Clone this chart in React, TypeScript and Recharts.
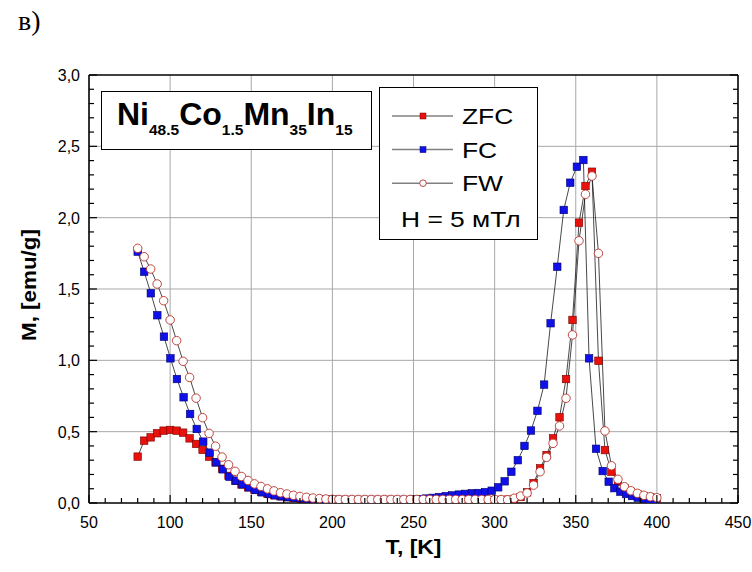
import React from "react";
import { LineChart, Line, XAxis, YAxis, ReferenceLine, Legend, Label } from "recharts";

const FONT = "'Liberation Sans', Arial, sans-serif";

// ZFC and FW share the same temperature sweep
const tSweep = [
  80, 84, 88, 92, 96, 100, 104, 108, 112, 116, 120, 124, 128, 132, 136, 140, 144, 148, 152, 156,
  160, 164, 168, 172, 176, 180, 184, 188, 192, 196, 200, 204, 208, 212, 216, 220, 224, 228, 232, 236,
  240, 244, 248, 252, 256, 260, 264, 268, 272, 276, 280, 284, 288, 292, 296, 300, 304, 308, 312, 316,
  320, 324, 328, 332, 336, 340, 344, 348, 352, 356, 360, 364, 368, 372, 376, 380, 384, 388, 392, 396, 400,
];

const mZfc = [
  0.325, 0.437, 0.46, 0.489, 0.507, 0.512, 0.507, 0.493, 0.453, 0.414, 0.372, 0.325, 0.285, 0.24, 0.19, 0.156, 0.13, 0.11, 0.092, 0.077,
  0.065, 0.055, 0.047, 0.041, 0.036, 0.032, 0.029, 0.026, 0.024, 0.023, 0.022, 0.022, 0.021, 0.021, 0.021, 0.021, 0.021, 0.021, 0.021, 0.021,
  0.021, 0.021, 0.021, 0.021, 0.021, 0.021, 0.021, 0.021, 0.021, 0.021, 0.021, 0.021, 0.021, 0.021, 0.021, 0.021, 0.022, 0.023, 0.028, 0.042,
  0.075, 0.14, 0.243, 0.336, 0.453, 0.601, 0.869, 1.283, 1.965, 2.222, 2.322, 0.997, 0.371, 0.219, 0.15, 0.105, 0.078, 0.062, 0.048, 0.04, 0.033,
];

const mFw = [
  1.785, 1.726, 1.64, 1.535, 1.418, 1.283, 1.138, 0.993, 0.88, 0.735, 0.598, 0.488, 0.398, 0.322, 0.268, 0.222, 0.186, 0.158, 0.134, 0.116,
  0.099, 0.085, 0.072, 0.063, 0.054, 0.046, 0.04, 0.035, 0.031, 0.028, 0.026, 0.025, 0.025, 0.025, 0.025, 0.025, 0.025, 0.025, 0.025, 0.025,
  0.025, 0.025, 0.025, 0.025, 0.025, 0.025, 0.025, 0.025, 0.025, 0.025, 0.025, 0.025, 0.025, 0.025, 0.025, 0.025, 0.024, 0.023, 0.033, 0.049,
  0.07, 0.125, 0.219, 0.32, 0.418, 0.54, 0.734, 1.178, 1.838, 2.164, 2.292, 1.75, 0.505, 0.261, 0.166, 0.114, 0.086, 0.068, 0.054, 0.044, 0.037,
];

// FC was measured on cooling, slightly different temperature points
const tFc = [
  80.0, 84.0, 88.1, 92.1, 96.2, 100.2, 104.2, 108.3, 112.3, 116.4, 120.4, 124.4, 128.5, 132.5, 136.6, 140.6, 144.6, 148.7, 152.7, 156.8,
  160.8, 164.8, 168.9, 172.9, 177.0, 181.0, 185.0, 189.1, 193.1, 197.2, 201.2, 205.2, 209.3, 213.3, 217.4, 221.4, 225.4, 229.5, 233.5, 237.6,
  241.6, 245.6, 249.7, 253.7, 257.8, 261.8, 265.8, 269.9, 273.9, 278.0, 282.0, 286.0, 290.1, 294.1, 298.2, 302.2, 306.2, 310.3, 314.3, 318.4,
  322.4, 326.4, 330.5, 334.5, 338.6, 342.6, 346.6, 350.7, 354.7, 358.2, 362.5, 366.6, 370.3, 373.8, 377.5, 381.0, 384.7, 388.2, 391.8, 395.3, 399.0,
];

const mFc = [
  1.762, 1.621, 1.47, 1.316, 1.166, 1.014, 0.869, 0.741, 0.624, 0.519, 0.43, 0.353, 0.285, 0.236, 0.184, 0.156, 0.131, 0.11, 0.091, 0.075,
  0.063, 0.054, 0.047, 0.041, 0.037, 0.033, 0.03, 0.028, 0.026, 0.024, 0.023, 0.022, 0.022, 0.022, 0.022, 0.022, 0.022, 0.022, 0.022, 0.022,
  0.022, 0.022, 0.025, 0.027, 0.031, 0.036, 0.042, 0.048, 0.053, 0.059, 0.064, 0.068, 0.07, 0.076, 0.086, 0.11, 0.152, 0.219, 0.3, 0.4,
  0.508, 0.646, 0.83, 1.26, 1.656, 2.054, 2.245, 2.357, 2.404, 1.014, 0.38, 0.224, 0.149, 0.104, 0.079, 0.063, 0.049, 0.037, 0.03, 0.026, 0.021,
];

const seriesOrder = ["ZFC", "FC", "FW"];
const xMajor = [50, 100, 150, 200, 250, 300, 350, 400, 450];
const yMajor = [0, 0.5, 1, 1.5, 2, 2.5, 3];
const xTicks = Array.from({ length: 41 }, (_, i) => 50 + i * 10);
const yTicks = Array.from({ length: 31 }, (_, i) => i / 10);

const zfcData = tSweep.map((t, i) => ({ t, m: mZfc[i] }));
const fwData = tSweep.map((t, i) => ({ t, m: mFw[i] }));
const fcData = tFc.map((t, i) => ({ t, m: mFc[i] }));

const styles: Record<string, { fill: string; stroke: string; shape: "square" | "circle" }> = {
  ZFC: { fill: "#e8120c", stroke: "#7a0000", shape: "square" },
  FC: { fill: "#1010e8", stroke: "#00006e", shape: "square" },
  FW: { fill: "#ffffff", stroke: "#b8342c", shape: "circle" },
};

const marker = (name: string, size: number) => (props: any) => {
  const { cx, cy, index } = props;
  const s = styles[name];
  const key = `${name}-${index}`;
  if (cx == null || cy == null) return <g key={key} />;
  if (s.shape === "circle")
    return <circle key={key} cx={cx} cy={cy} r={size / 2} fill={s.fill} stroke={s.stroke} strokeWidth={0.9} />;
  return (
    <rect key={key} x={cx - size / 2} y={cy - size / 2} width={size} height={size} fill={s.fill} stroke={s.stroke} strokeWidth={0.6} />
  );
};

const isMajorX = (v: number) => v % 50 === 0;
const isMajorY = (v: number) => Math.round(v * 10) % 5 === 0;

const BottomTick = ({ x, y, payload }: any) => {
  const v = payload.value;
  const major = isMajorX(v);
  return (
    <g>
      <line x1={x} x2={x} y1={y} y2={y - (major ? 8 : 5)} stroke="#000" strokeWidth={1.2} />
      {major && (
        <text x={x} y={y + 25} textAnchor="middle" fontSize={16} fontFamily={FONT} fill="#000">
          {v}
        </text>
      )}
    </g>
  );
};

const TopTick = ({ x, y, payload }: any) => (
  <line x1={x} x2={x} y1={y} y2={y + (isMajorX(payload.value) ? 8 : 5)} stroke="#000" strokeWidth={1.2} />
);

const LeftTick = ({ x, y, payload }: any) => {
  const v = payload.value;
  const major = isMajorY(v);
  return (
    <g>
      <line x1={x} x2={x + (major ? 8 : 5)} y1={y} y2={y} stroke="#000" strokeWidth={1.2} />
      {major && (
        <text x={x - 9} y={y + 6} textAnchor="end" fontSize={16} fontFamily={FONT} fill="#000">
          {v.toFixed(1).replace(".", ",")}
        </text>
      )}
    </g>
  );
};

const RightTick = ({ x, y, payload }: any) => (
  <line x1={x} x2={x - (isMajorY(payload.value) ? 8 : 5)} y1={y} y2={y} stroke="#000" strokeWidth={1.2} />
);

// legend text is a little wider than plain Arial
const legendText = (x: number, y: number, s: string) => (
  <text transform={`translate(${x},${y}) scale(1.2,1)`} fontSize={22} fontFamily={FONT} fill="#000">
    {s}
  </text>
);

const LegendBox = ({ payload }: any) => {
  const names: string[] = (payload || []).map((p: any) => p.value);
  const rows = seriesOrder.filter((n) => names.includes(n));
  return (
    <div style={{ width: 159, height: 153, border: "1px solid #000", background: "#fff", boxSizing: "border-box" }}>
      <svg width={157} height={151} style={{ display: "block" }}>
        {rows.map((name, i) => {
          const y = 28 + i * 33.6;
          const s = styles[name];
          return (
            <g key={name}>
              <line x1={12} x2={73} y1={y} y2={y} stroke="#808080" strokeWidth={1.5} />
              {s.shape === "circle" ? (
                <circle cx={43} cy={y} r={3.3} fill={s.fill} stroke={s.stroke} strokeWidth={0.9} />
              ) : (
                <rect x={40} y={y - 3} width={6} height={6} fill={s.fill} stroke={s.stroke} strokeWidth={0.5} />
              )}
              {legendText(82, y + 8, name)}
            </g>
          );
        })}
        {legendText(21, 139, "H = 5 мТл")}
      </svg>
    </div>
  );
};

const axisLine = { stroke: "#000", strokeWidth: 1.6 };

export default function App() {
  return (
    <div style={{ position: "absolute", left: 0, top: 0, width: 752, height: 572, background: "#fff" }}>
      <div style={{ position: "absolute", left: 18, top: 5, fontFamily: "'Liberation Serif', 'DejaVu Serif', serif", fontSize: 28 }}>
        в)
      </div>
      <LineChart width={752} height={572} margin={{ top: 74, right: 13, bottom: 68, left: 88 }}>
        <XAxis
          xAxisId={0}
          dataKey="t"
          type="number"
          domain={[50, 450]}
          ticks={xTicks}
          interval={0}
          height={1}
          tickSize={0}
          tickMargin={0}
          tickLine={false}
          axisLine={axisLine}
          tick={<BottomTick />}
          allowDataOverflow
        >
          <Label
            content={() => (
              <text
                x={385.5}
                y={554}
                textLength={56}
                lengthAdjust="spacingAndGlyphs"
                fontSize={21}
                fontWeight="bold"
                fontFamily={FONT}
                fill="#000"
              >
                T, [K]
              </text>
            )}
          />
        </XAxis>
        <XAxis
          xAxisId="top"
          orientation="top"
          type="number"
          domain={[50, 450]}
          ticks={xTicks}
          interval={0}
          height={1}
          tickSize={0}
          tickMargin={0}
          tickLine={false}
          axisLine={axisLine}
          tick={<TopTick />}
          allowDataOverflow
        />
        <YAxis
          yAxisId={0}
          type="number"
          domain={[0, 3]}
          ticks={yTicks}
          interval={0}
          width={1}
          tickSize={0}
          tickMargin={0}
          tickLine={false}
          axisLine={axisLine}
          tick={<LeftTick />}
          allowDataOverflow
        >
          <Label
            content={() => (
              <text
                transform="translate(36,341) rotate(-90)"
                textLength={112}
                lengthAdjust="spacingAndGlyphs"
                fontSize={21}
                fontWeight="bold"
                fontFamily={FONT}
                fill="#000"
              >
                M, [emu/g]
              </text>
            )}
          />
        </YAxis>
        <YAxis
          yAxisId="right"
          orientation="right"
          type="number"
          domain={[0, 3]}
          ticks={yTicks}
          interval={0}
          width={1}
          tickSize={0}
          tickMargin={0}
          tickLine={false}
          axisLine={axisLine}
          tick={<RightTick />}
          allowDataOverflow
        />
        {xMajor.slice(1, -1).map((v) => (
          <ReferenceLine key={`gx${v}`} x={v} stroke="#a8a8a8" strokeWidth={1} />
        ))}
        {yMajor.slice(1, -1).map((v) => (
          <ReferenceLine key={`gy${v}`} y={v} stroke="#a8a8a8" strokeWidth={1} />
        ))}
        <Line
          name="ZFC"
          data={zfcData}
          dataKey="m"
          type="linear"
          stroke="#1a1a1a"
          strokeWidth={0.8}
          dot={marker("ZFC", 7.5)}
          activeDot={false}
          isAnimationActive={false}
        />
        <Line
          name="FC"
          data={fcData}
          dataKey="m"
          type="linear"
          stroke="#1a1a1a"
          strokeWidth={0.8}
          dot={marker("FC", 7.5)}
          activeDot={false}
          isAnimationActive={false}
        />
        <Line
          name="FW"
          data={fwData}
          dataKey="m"
          type="linear"
          stroke="#1a1a1a"
          strokeWidth={0.8}
          dot={marker("FW", 8.5)}
          activeDot={false}
          isAnimationActive={false}
        />
        <Legend
          layout="vertical"
          align="center"
          verticalAlign="middle"
          content={<LegendBox />}
          wrapperStyle={{ left: 379, top: 87, width: 159, height: 153 }}
        />
      </LineChart>
      <div
        style={{
          position: "absolute",
          left: 101,
          top: 91,
          width: 271,
          height: 59,
          border: "1px solid #000",
          background: "#fff",
          boxSizing: "border-box",
        }}
      >
        <svg width={269} height={57} style={{ display: "block" }}>
          <text x={15} y={33} fontSize={32} fontWeight="bold" fontFamily={FONT} fill="#000">
            Ni
            <tspan fontSize={15.5} dy={10}>48.5</tspan>
            <tspan dy={-10}>Co</tspan>
            <tspan fontSize={15.5} dy={10}>1.5</tspan>
            <tspan dy={-10}>Mn</tspan>
            <tspan fontSize={15.5} dy={10}>35</tspan>
            <tspan dy={-10}>In</tspan>
            <tspan fontSize={15.5} dy={10}>15</tspan>
          </text>
        </svg>
      </div>
    </div>
  );
}
